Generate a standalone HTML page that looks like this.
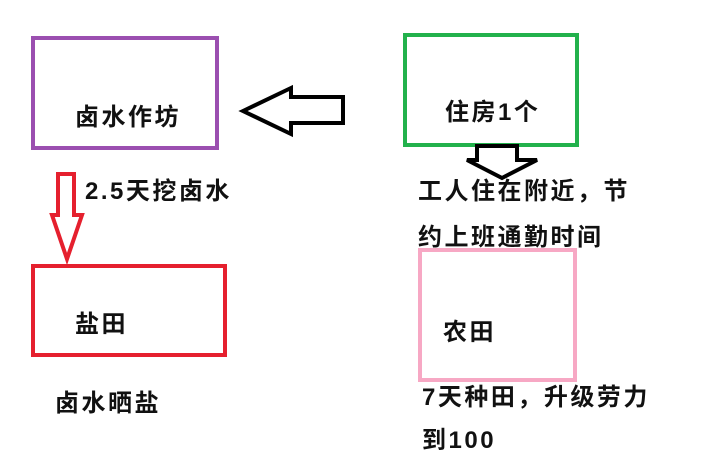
<!DOCTYPE html>
<html><head><meta charset="utf-8"><style>
body{margin:0;width:710px;height:460px;background:#fff;position:relative;overflow:hidden;font-family:"Liberation Sans","Noto Sans CJK SC",sans-serif;font-weight:bold;}
.b{position:absolute;box-sizing:border-box;border:4px solid;}
.t{position:absolute;font-size:24px;letter-spacing:2.5px;white-space:nowrap;line-height:1;color:#111;}
</style></head><body>
<div class="b" style="left:31px;top:36px;width:188px;height:114px;border-color:#9b4fb0"></div>
<div class="b" style="left:403px;top:33px;width:176px;height:114px;border-color:#22b14c"></div>
<div class="b" style="left:31px;top:264px;width:196px;height:93px;border-color:#e5202e"></div>
<div class="b" style="left:418px;top:248px;width:159px;height:134px;border-color:#f7a8c4"></div>
<svg width="710" height="460" style="position:absolute;left:0;top:0">
<polygon points="243,111 291,88 291,97 343,97 343,123 291,123 291,134" fill="none" stroke="#000" stroke-width="4" stroke-linejoin="miter"/>
<polygon points="477,146 517,146 517,160 537,160 502,178 467,160 477,160" fill="none" stroke="#000" stroke-width="4"/>
<polygon points="58,174 74,174 74,215 82,215 67,259 52,215 58,215" fill="none" stroke="#e5202e" stroke-width="4"/>
</svg>
<div class="t" style="left:75px;top:106px">卤水作坊</div>
<div class="t" style="left:445px;top:101px">住房1个</div>
<div class="t" style="left:85px;top:180px">2.5天挖卤水</div>
<div class="t" style="left:418px;top:180px">工人住在附近，节</div>
<div class="t" style="left:418px;top:226px">约上班通勤时间</div>
<div class="t" style="left:75px;top:313px">盐田</div>
<div class="t" style="left:443px;top:321px">农田</div>
<div class="t" style="left:55px;top:392px">卤水晒盐</div>
<div class="t" style="left:422px;top:386px">7天种田，升级劳力</div>
<div class="t" style="left:422px;top:429px">到100</div>
</body></html>
